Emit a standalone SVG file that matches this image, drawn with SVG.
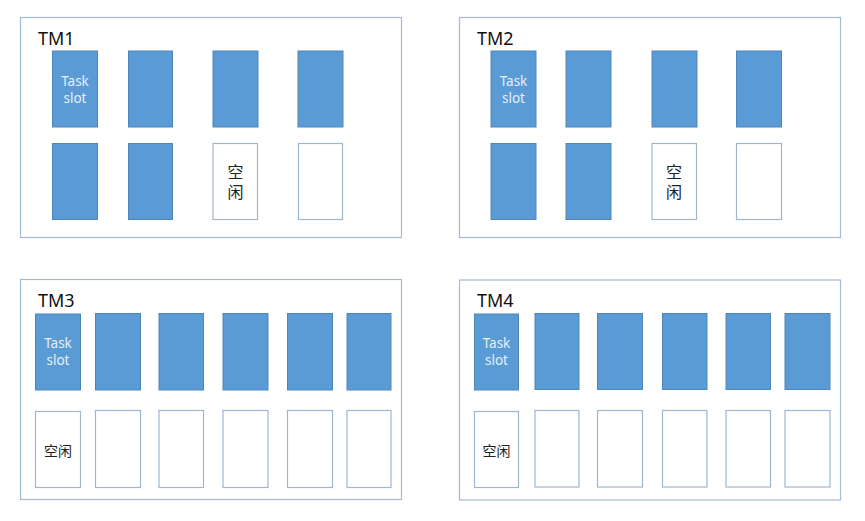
<svg xmlns="http://www.w3.org/2000/svg" width="865" height="521" viewBox="0 0 865 521">
<style>
.tm{fill:#fff;stroke:#a3bad3;stroke-width:1.2}
.busy{fill:#5b9bd5;stroke:#4f86b9;stroke-width:1}
.free{fill:#fff;stroke:#9fb6cf;stroke-width:1.2}
.lbl{font-family:"Noto Sans","Noto Sans CJK SC",sans-serif;font-size:18px;fill:#111}
.ts{font-family:"Noto Sans","Noto Sans CJK SC",sans-serif;font-size:13.5px;fill:#e6effa;text-anchor:middle}
.cn{font-family:"Noto Sans CJK SC",sans-serif;fill:#222;text-anchor:middle}
.vt{writing-mode:vertical-rl;letter-spacing:4px;font-size:16px}
</style>
<rect width="865" height="521" fill="#fff"/>
<g id="tm1">
<rect class="tm" x="20.5" y="17.5" width="381" height="220"/>
<text class="lbl" x="38" y="45">TM1</text>
<rect class="busy" x="52.5" y="51" width="45" height="76"/>
<text class="ts" x="75" y="86">Task<tspan x="75" dy="17">slot</tspan></text>
<rect class="busy" x="128.5" y="51" width="44" height="76"/>
<rect class="busy" x="213" y="51" width="45" height="76"/>
<rect class="busy" x="298" y="51" width="45" height="76"/>
<rect class="busy" x="52.5" y="143.5" width="45" height="76"/>
<rect class="busy" x="128.5" y="143.5" width="44" height="76"/>
<rect class="free" x="213" y="143.5" width="44.5" height="76"/>
<text class="cn vt" x="235.5" y="184">空闲</text>
<rect class="free" x="298.5" y="143.5" width="44" height="76"/>
</g>
<g id="tm2">
<rect class="tm" x="459.5" y="17.5" width="381" height="220"/>
<text class="lbl" x="477" y="45">TM2</text>
<rect class="busy" x="491" y="51" width="45" height="76"/>
<text class="ts" x="513.5" y="86">Task<tspan x="513.5" dy="17">slot</tspan></text>
<rect class="busy" x="566" y="51" width="45" height="76"/>
<rect class="busy" x="652" y="51" width="45" height="76"/>
<rect class="busy" x="736.5" y="51" width="45" height="76"/>
<rect class="busy" x="491" y="143.5" width="45" height="76"/>
<rect class="busy" x="566" y="143.5" width="45" height="76"/>
<rect class="free" x="652" y="143.5" width="44.5" height="76"/>
<text class="cn vt" x="674" y="184">空闲</text>
<rect class="free" x="736.5" y="143.5" width="45" height="76"/>
</g>
<g id="tm3">
<rect class="tm" x="20.5" y="279.5" width="381" height="220"/>
<text class="lbl" x="38" y="307">TM3</text>
<rect class="busy" x="35.5" y="314" width="45" height="76"/>
<text class="ts" x="58" y="348">Task<tspan x="58" dy="17">slot</tspan></text>
<rect class="busy" x="95.5" y="313.5" width="45" height="76.5"/>
<rect class="busy" x="159" y="313.5" width="44.5" height="76.5"/>
<rect class="busy" x="223" y="313.5" width="45" height="76.5"/>
<rect class="busy" x="287.5" y="313.5" width="45" height="76.5"/>
<rect class="busy" x="347" y="313.5" width="44" height="76.5"/>
<rect class="free" x="35.5" y="411.5" width="45" height="76"/>
<text class="cn" x="58" y="456" font-size="14">空闲</text>
<rect class="free" x="95.5" y="410.5" width="45" height="77"/>
<rect class="free" x="159" y="410.5" width="44.5" height="77"/>
<rect class="free" x="223" y="410.5" width="45" height="77"/>
<rect class="free" x="287.5" y="410.5" width="45" height="77"/>
<rect class="free" x="347" y="410.5" width="44" height="77"/>
</g>
<g id="tm4">
<rect class="tm" x="459.5" y="280" width="381" height="220"/>
<text class="lbl" x="477" y="307">TM4</text>
<rect class="busy" x="474.5" y="314" width="44" height="76"/>
<text class="ts" x="496.5" y="348">Task<tspan x="496.5" dy="17">slot</tspan></text>
<rect class="busy" x="535" y="313.5" width="44" height="76"/>
<rect class="busy" x="597.5" y="313.5" width="45" height="76"/>
<rect class="busy" x="662.5" y="313.5" width="44.5" height="76"/>
<rect class="busy" x="726" y="313.5" width="44.5" height="76"/>
<rect class="busy" x="785" y="313.5" width="45" height="76"/>
<rect class="free" x="474.5" y="411.5" width="44" height="76"/>
<text class="cn" x="496.5" y="456" font-size="14">空闲</text>
<rect class="free" x="535" y="410.5" width="44" height="76.5"/>
<rect class="free" x="597.5" y="410.5" width="45" height="76.5"/>
<rect class="free" x="662.5" y="410.5" width="44.5" height="76.5"/>
<rect class="free" x="726" y="410.5" width="44.5" height="76.5"/>
<rect class="free" x="785" y="410.5" width="45" height="76.5"/>
</g>
<g id="connectors"/>
</svg>
